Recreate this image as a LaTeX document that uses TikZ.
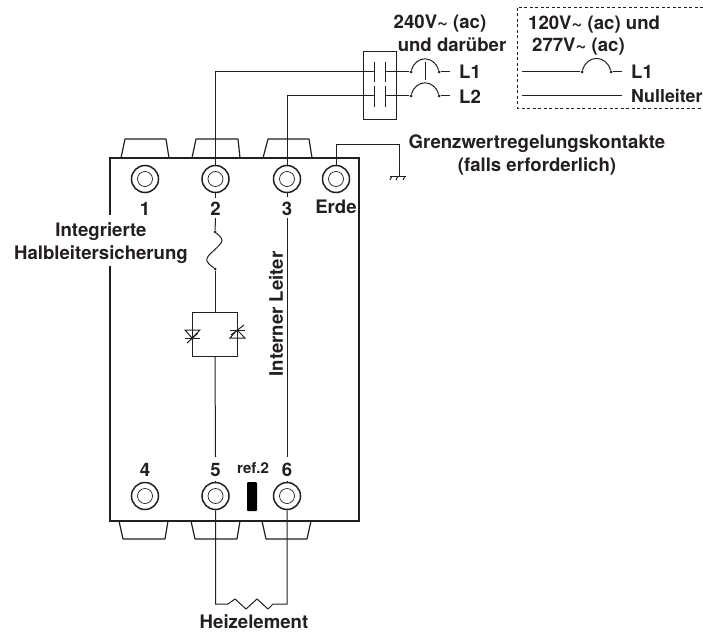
\documentclass[tikz,border=0pt]{standalone}
\usepackage{fontspec}
\setmainfont{TeX Gyre Heros}
\usetikzlibrary{positioning}
\definecolor{ink}{HTML}{231F20}
\tikzset{
  wire/.style={draw=ink,line width=1pt},
  wall/.style={draw=ink,line width=1.5pt},
  lug/.style={draw=ink,line width=1.2pt,line join=round},
  lbl/.style={text=ink,font=\fontsize{18.6}{22}\selectfont\bfseries,inner sep=0pt,align=center},
  outerring/.style={draw=ink,circle,line width=1.5pt,minimum size=27pt,inner sep=0pt},
  innerring/.style={draw=ink,circle,line width=0.7pt,minimum size=15pt,inner sep=0pt},
  dot/.style={fill=ink,circle,inner sep=0pt,minimum size=3pt},
}
\begin{document}
\begin{tikzpicture}[x=1pt,y=-1pt]
  \useasboundingbox (0,0) rectangle (703,631);
  % housing
  \coordinate (w1) at (110,215);
  \coordinate (w2) at (110,158);
  \coordinate (w3) at (359,158);
  \coordinate (w4) at (359,521);
  \coordinate (w5) at (110,521);
  \coordinate (w6) at (110,266);
  \draw[wall](w1)--(w2)--(w3)--(w4)--(w5)--(w6);
  \draw[ink,line width=2.2pt](110,290)--(110,348);
  \draw[ink,line width=2.2pt](359,303)--(359,361);
  % lugs
  \draw[lug](121,158)--(125,139)--(166,139)--(169,158);
  \draw[lug](192,158)--(196,139)--(238,139)--(240,158);
  \draw[lug](263,158)--(268,139)--(309,139)--(312,158);
  \draw[lug](119,521)--(123,539)--(165,539)--(168,521);
  \draw[lug](191,521)--(195,539)--(237,539)--(240,521);
  \draw[lug](262,521)--(266,539)--(307,539)--(311,521);
  % terminals
  \node[outerring](t1) at (145,179){};
  \node[outerring](t2) at (215.5,179){};
  \node[outerring](t3) at (287,179){};
  \node[outerring](te) at (336,179){};
  \node[outerring](t4) at (145,496){};
  \node[outerring](t5) at (215.5,496){};
  \node[outerring](t6) at (287,496){};
  \node[innerring](i1) at (t1){};
  \node[innerring](i2) at (t2){};
  \node[innerring](i3) at (t3){};
  \node[innerring](ie) at (te){};
  \node[innerring](i4) at (t4){};
  \node[innerring](i5) at (t5){};
  \node[innerring](i6) at (t6){};
  \node[fill=black,rounded corners=1pt,minimum width=10pt,minimum height=29pt,inner sep=0pt](refmark) at (252,496.5){};
  % labels
  \node[lbl](n1) at (145,209){1};
  \node[lbl](n2) at (215.5,209){2};
  \node[lbl](n3) at (287,209){3};
  \node[lbl](nerde) at (336,207){Erde};
  \node[lbl](n4) at (145,470){4};
  \node[lbl](n5) at (215.5,470){5};
  \node[lbl](n6) at (287,470){6};
  \node[lbl,font=\fontsize{15}{18}\selectfont\bfseries](nref) at (253,468){ref.2};
  \node[lbl](fuselbl) at (101,243){Integrierte\\[1pt]Halbleitersicherung};
  \node[lbl,rotate=90](leiter) at (276,314){Interner Leiter};
  \node[lbl](heiz) at (254,622){Heizelement};
  \node[lbl](v240a) at (440,24){240V\textasciitilde{} (ac)};
  \node[lbl](v240b) at (452,45){und darüber};
  \node[lbl,anchor=west](v120a) at (528,25){120V\textasciitilde{} (ac) und};
  \node[lbl,anchor=west](v120b) at (532,47){277V\textasciitilde{} (ac)};
  \node[lbl,anchor=west](l1) at (459,72){L1};
  \node[lbl,anchor=west](l2) at (459,97){L2};
  \node[lbl,anchor=west](l1b) at (631,72){L1};
  \node[lbl,anchor=west,font=\fontsize{17.8}{22}\selectfont\bfseries](nl) at (631,96){Nulleiter};
  \node[lbl](grenz) at (537,154.5){Grenzwertregelungskontakte\\[1pt](falls erforderlich)};
  % contactor
  \draw[draw=ink,line width=0.9pt](363,51) rectangle (396,119);
  \coordinate (c1a) at (374,72);
  \coordinate (c1b) at (385,72);
  \coordinate (c2a) at (374,96);
  \coordinate (c2b) at (385,96);
  \draw[wire](374,62)--(374,82);
  \draw[wire](385,62)--(385,82);
  \draw[wire](374,86)--(374,107);
  \draw[wire](385,86)--(385,107);
  \node[dot](d1) at (411,72){};
  \node[dot](d2) at (439,72){};
  \node[dot](d3) at (411,96){};
  \node[dot](d4) at (439,96){};
  \node[dot](d5) at (582,72){};
  \node[dot](d6) at (611,72){};
  \coordinate (e1) at (450,72);
  \coordinate (e2) at (450,96);
  \coordinate (e3) at (622,72);
  \coordinate (s1) at (522,72);
  \coordinate (s2) at (522,96);
  \coordinate (s3) at (622,96);
  % supply wires
  \draw[wire](t2.north)--(215.5,72)--(c1a);
  \draw[wire](t3.north)--(287,96)--(c2a);
  \draw[wire](c1b)--(d1);
  \draw[wire](c2b)--(d3);
  \draw[wire](d1) to[out=75,in=105,looseness=1.5](d2);
  \draw[wire](d3) to[out=75,in=105,looseness=1.5](d4);
  \draw[wire](d5) to[out=75,in=105,looseness=1.5](d6);
  \draw[wire](425,62)--(425,80);
  \draw[wire](d2)--(e1);
  \draw[wire](d4)--(e2);
  \draw[wire](s1)--(d5);
  \draw[wire](d6)--(e3);
  \draw[wire](s2)--(s3);
  % dashed frame
  \draw[draw=ink,line width=0.7pt,dash pattern=on 3pt off 2.5pt](703,7)--(517,7)--(517,108)--(703,108);
  % earth
  \draw[wire](te.north)--(336,145)--(399,145)--(399,176);
  \draw[wire](390,176)--(406,176);
  \draw[wire](392,176)--(390,180);
  \draw[wire](398,176)--(396,180);
  \draw[wire](405,176)--(403,180);
  % fuse and thyristors
  \node[dot](f1) at (215,232){};
  \node[dot](f2) at (215,269){};
  \draw[wire](t2.south)--(215.5,198);
  \draw[wire](215.5,218)--(f1);
  \draw[wire](f1) .. controls (220,236) and (224,240) .. (221,243) .. controls (216,250) and (205,256) .. (207,261) .. controls (209,265) and (212,266) .. (f2);
  \draw[wire](f2)--(215,312);
  \draw[wire](192,312) rectangle (237,356);
  \draw[wire](215,356)--(215.5,457);
  \draw[wire](215.5,481)--(t5.north);
  \draw[wire](185,330)--(200,330)--(192,338)--cycle;
  \draw[wire](185,338)--(200,338);
  \draw[wire](187,343)--(198,333);
  \draw[wire](230,338)--(245,338)--(237,330)--cycle;
  \draw[wire](230,330)--(245,330);
  \draw[wire](231,335)--(244,325);
  % conductor
  \draw[wire](t3.south)--(287,197);
  \draw[wire](287,218)--(287,457);
  \draw[wire](287,481)--(t6.north);
  % heater
  \draw[wire](t5.south)--(215.5,604)--(228,604)--(235,599)--(246,609)--(257,599)--(268,609)--(273,604)--(287,604)--(t6.south);
\end{tikzpicture}
\end{document}
